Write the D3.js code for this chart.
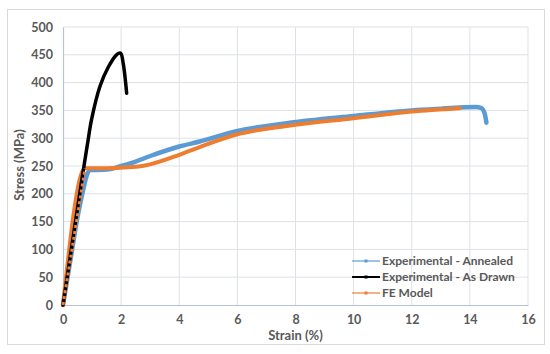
<!DOCTYPE html>
<html>
<head>
<meta charset="utf-8">
<script src="https://cdn.jsdelivr.net/npm/d3@7"></script>
<style>
  body { margin: 0; background: #fff; }
  text { font-family: Lato, "Open Sans", sans-serif; }
</style>
</head>
<body>
<div id="chart"></div>
<script>
// data (strain in %, stress in MPa)
const annealedStrain = [0, 0.3, 0.5, 0.7, 0.8, 0.92, 1.2, 1.6, 2.0, 2.5, 3.0, 3.5, 4.0, 4.7, 6.0, 7.7, 10.0, 12.0, 13.0, 14.2, 14.4, 14.52, 14.57];
const annealedStress = [0, 95, 158, 208, 230, 243, 243, 244, 250, 258, 268, 277, 285, 294, 313, 327, 340, 350, 353, 356, 354, 342, 328];

const drawnStrain = [0, 0.7, 0.85, 0.98, 1.27, 1.56, 1.84, 1.98, 2.07, 2.19];
const drawnStress = [0, 243, 292, 333, 393, 428, 450, 453, 435, 381];

const feStrain = [0, 0.76, 1.0, 2.0, 2.6, 3.0, 4.0, 4.7, 6.0, 7.7, 10.0, 12.0, 13.65];
const feStress = [0, 246, 246, 247, 249, 253, 270, 284, 307, 322, 336, 348, 354];

const xTicks = [0, 2, 4, 6, 8, 10, 12, 14, 16];
const yTicks = [0, 50, 100, 150, 200, 250, 300, 350, 400, 450, 500];

const seriesNames = ["Experimental - Annealed", "Experimental - As Drawn", "FE Model"];
const seriesColors = ["#5b9bd5", "#000000", "#ed7d31"];

// svg canvas
const W = 550, H = 354;
const svg = d3.select("#chart").append("svg")
    .attr("width", W)
    .attr("height", H);

// outer frame
svg.append("rect")
    .attr("x", 7.5).attr("y", 9.5)
    .attr("width", 537).attr("height", 335)
    .attr("fill", "none")
    .attr("stroke", "#d9d9d9");

const x = d3.scaleLinear().domain([0, 16]).range([63, 528]);
const y = d3.scaleLinear().domain([0, 500]).range([305, 27]);

// gridlines
svg.append("g").selectAll("line")
    .data(yTicks.slice(1))
    .join("line")
    .attr("x1", x(0)).attr("x2", x(16))
    .attr("y1", d => y(d)).attr("y2", d => y(d))
    .attr("stroke", "#dde1e6");

svg.append("g").selectAll("line")
    .data(xTicks.slice(1))
    .join("line")
    .attr("x1", d => x(d)).attr("x2", d => x(d))
    .attr("y1", y(0)).attr("y2", y(500))
    .attr("stroke", "#dde1e6");

// axes
const xAxis = svg.append("g")
    .attr("transform", `translate(0,${y(0)})`)
    .call(d3.axisBottom(x).tickValues(xTicks).tickSize(0).tickPadding(10));
const yAxis = svg.append("g")
    .attr("transform", `translate(${x(0)},0)`)
    .call(d3.axisLeft(y).tickValues(yTicks).tickSize(0).tickPadding(10));

[xAxis, yAxis].forEach(a => {
    a.select(".domain").attr("stroke", "#b4c3d9").attr("stroke-width", 1.2);
    a.selectAll("text")
        .attr("font-size", "12.5px")
        .attr("font-weight", "bold")
        .attr("fill", "#595959")
        .style("font-family", "Lato, sans-serif");
});

// axis titles
svg.append("text")
    .attr("x", (x(0) + x(16)) / 2)
    .attr("y", 340)
    .attr("text-anchor", "middle")
    .attr("font-size", "13px")
    .attr("font-weight", "bold")
    .attr("fill", "#595959")
    .text("Strain  (%)");

svg.append("text")
    .attr("transform", `translate(24,165) rotate(-90)`)
    .attr("text-anchor", "middle")
    .attr("font-size", "13px")
    .attr("font-weight", "bold")
    .attr("fill", "#595959")
    .text("Stress  (MPa)");

// curves
const line = d3.line()
    .x(d => x(d[0]))
    .y(d => y(d[1]))
    .curve(d3.curveMonotoneX);

// smoother one for the as-drawn curve (peak + drop)
const lineSmooth = d3.line()
    .x(d => x(d[0]))
    .y(d => y(d[1]))
    .curve(d3.curveCatmullRom.alpha(0.5));

const zip = (a, b) => a.map((v, i) => [v, b[i]]);
const series = [
    {pts: zip(annealedStrain, annealedStress), w: 4.5, gen: line},
    {pts: zip(drawnStrain, drawnStress), w: 3.5, gen: lineSmooth},
    {pts: zip(feStrain, feStress), w: 4, gen: line}
];

// draw order: annealed, FE, drawn on top
[0, 2, 1].forEach(i => {
    svg.append("path")
        .datum(series[i].pts)
        .attr("d", series[i].gen)
        .attr("fill", "none")
        .attr("stroke", seriesColors[i])
        .attr("stroke-width", series[i].w)
        .attr("stroke-linejoin", "round")
        .attr("stroke-linecap", "round");
});

// orange markers showing over the black line on the elastic part
svg.append("path")
    .datum(series[2].pts.slice(0, 2))
    .attr("d", line)
    .attr("fill", "none")
    .attr("stroke", seriesColors[2])
    .attr("stroke-width", 3)
    .attr("stroke-dasharray", "3,3");

// legend
const legend = svg.append("g")
    .attr("id", "legend")
    .attr("transform", "translate(352,261)");

seriesNames.forEach((name, i) => {
    const row = legend.append("g").attr("transform", `translate(0,${i * 16})`);
    row.append("line")
        .attr("x1", 0).attr("x2", 28)
        .attr("y1", 0).attr("y2", 0)
        .attr("stroke", seriesColors[i])
        .attr("stroke-width", i === 1 ? 2 : 1.2);
    row.append("rect")
        .attr("x", 12.5).attr("y", -1.5)
        .attr("width", 3).attr("height", 3)
        .attr("fill", seriesColors[i]);
    row.append("text")
        .attr("x", 30)
        .attr("y", 4)
        .attr("font-size", "12px")
        .attr("font-weight", "bold")
        .attr("fill", "#595959")
        .text(name);
});
</script>
</body>
</html>
